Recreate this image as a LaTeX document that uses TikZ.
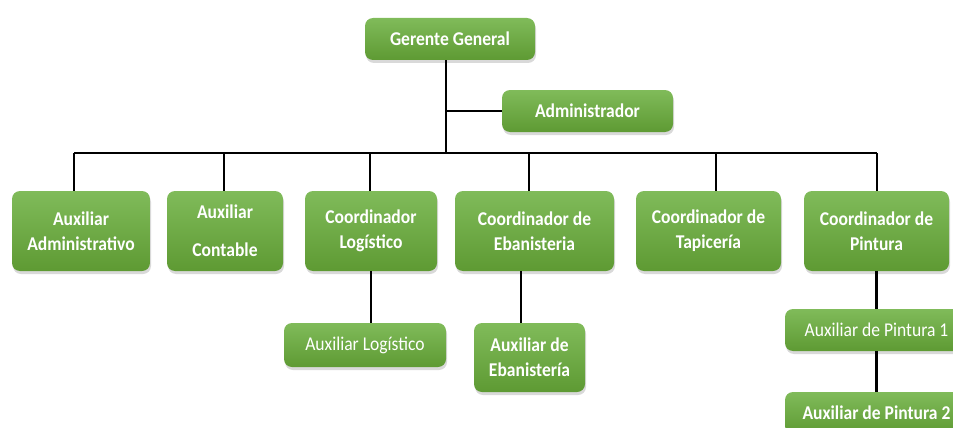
\documentclass[tikz,border=0pt]{standalone}
\usepackage{fontspec}
\setmainfont{Carlito}[FakeStretch=0.9]
\usepackage{tikz}
\usetikzlibrary{shadows}

\definecolor{cargotop}{HTML}{80BB5A}
\definecolor{cargobot}{HTML}{5E9A33}

\begin{document}
\begin{tikzpicture}[x=1pt,y=-1pt]
	\useasboundingbox (0,0) rectangle (953,428);
	\begin{scope}[every node/.style={rounded corners=8pt,top color=cargotop,bottom color=cargobot,
				text=white,align=center,inner sep=0pt,
				font=\fontsize{19.5}{25}\selectfont\bfseries,
				drop shadow={shadow xshift=1pt,shadow yshift=-3pt,opacity=0.3}}]
		% level 0
		\node[minimum width=170,minimum height=42] (gerente) at (450,39) {Gerente General};
		\node[minimum width=171,minimum height=42] (admin) at (587.5,111) {Administrador};
		% level 1
		\node[minimum width=138,minimum height=80] (auxadm) at (81,231) {Auxiliar\\Administrativo};
		\node[minimum width=116,minimum height=80] (auxcont) at (225,231) {Auxiliar\\[13pt]Contable};
		\node[minimum width=132,minimum height=80] (coordlog) at (371,231) {Coordinador\\Logístico};
		\node[minimum width=159,minimum height=80] (coordeba) at (534.5,231) {Coordinador de\\Ebanisteria};
		\node[minimum width=145,minimum height=80] (coordtap) at (708.5,231) {Coordinador de\\Tapicería};
		\node[minimum width=145,minimum height=80] (coordpin) at (876.5,231) {Coordinador de\\Pintura};
		% level 2
		\node[minimum width=162,minimum height=44,font=\fontsize{19.5}{25}\selectfont] (auxlog) at (365,345) {Auxiliar Logístico};
		\node[minimum width=111,minimum height=69] (auxeba) at (529.5,357.5) {Auxiliar de\\Ebanistería};
		\node[minimum width=183,minimum height=42,font=\fontsize{19.5}{25}\selectfont] (auxpin1) at (876.5,330) {Auxiliar de Pintura 1};
		% level 3
		\node[minimum width=183,minimum height=42] (auxpin2) at (876.5,413) {Auxiliar de Pintura 2};
	\end{scope}

	\begin{scope}[every path/.style={draw=black,line width=2.2pt}]
		\coordinate (trunk) at (446,153);
		\coordinate (b1) at (74,153);
		\coordinate (b2) at (224,153);
		\coordinate (b3) at (370,153);
		\coordinate (b4) at (529,153);
		\coordinate (b5) at (716,153);
		\coordinate (b6) at (877,153);
		\coordinate (ebaline) at (521,300);

		\draw (gerente.south -| trunk) -- (trunk);
		\draw (admin.west) -- (admin.west -| trunk);
		\draw (b1) -- (b6);
		\foreach \b/\n in {b1/auxadm,b2/auxcont,b3/coordlog,b4/coordeba,b5/coordtap,b6/coordpin}
			\draw (\b) -- (\b |- \n.north);

		\draw (coordlog.south) -- (coordlog.south |- auxlog.north);
		\draw (coordeba.south -| ebaline) -- (auxeba.north -| ebaline);
		\draw (coordpin) -- (auxpin1);
		\draw (auxpin1) -- (auxpin2);
	\end{scope}
\end{tikzpicture}
\end{document}
